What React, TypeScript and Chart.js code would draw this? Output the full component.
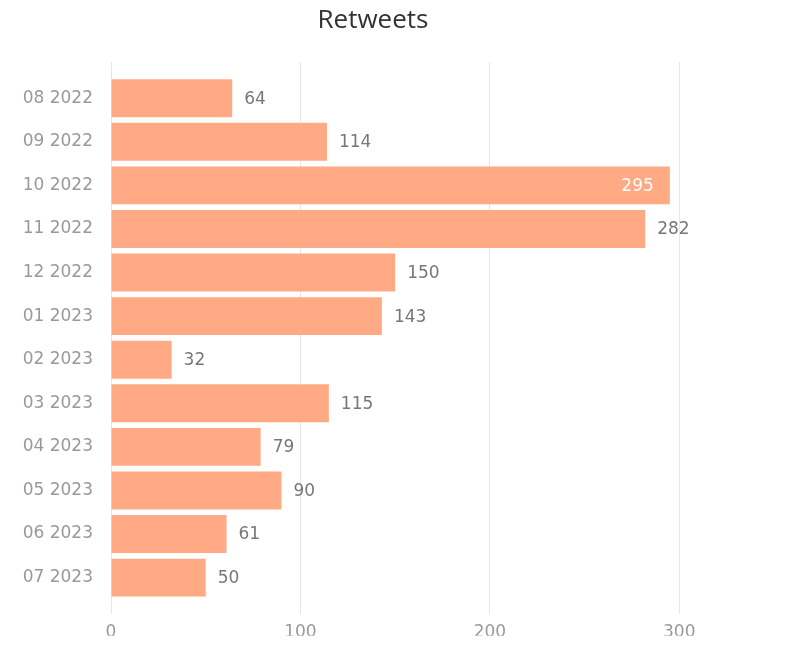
import React, { useEffect, useRef } from "react";
import { Chart, registerables } from "chart.js";

Chart.register(...registerables);

const categories = [
  "08 2022", "09 2022", "10 2022", "11 2022", "12 2022", "01 2023",
  "02 2023", "03 2023", "04 2023", "05 2023", "06 2023", "07 2023",
];
const retweets = [64, 114, 295, 282, 150, 143, 32, 115, 79, 90, 61, 50];
const xTicks = [0, 100, 200, 300];
const chartTitle = "Retweets";

const FONT = "'DejaVu Sans', sans-serif";

const valueLabels = {
  id: "valueLabels",
  afterDatasetsDraw(chart: any) {
    const ctx = chart.ctx;
    const meta = chart.getDatasetMeta(0);
    const maxVal = Math.max(...retweets);
    ctx.save();
    ctx.font = `17px ${FONT}`;
    ctx.textBaseline = "middle";
    meta.data.forEach((bar: any, i: number) => {
      const text = String(retweets[i]);
      if (retweets[i] === maxVal) {
        ctx.fillStyle = "#ffffff";
        ctx.textAlign = "right";
        ctx.fillText(text, bar.x - 16, bar.y + 1);
      } else {
        ctx.fillStyle = "#777777";
        ctx.textAlign = "left";
        ctx.fillText(text, bar.x + 12, bar.y + 1);
      }
    });
    ctx.restore();
  },
};

export default function App() {
  const ref = useRef<HTMLCanvasElement | null>(null);
  useEffect(() => {
    if (!ref.current) return;
    const chart = new Chart(ref.current, {
      type: "bar",
      data: {
        datasets: [
          {
            label: chartTitle,
            data: retweets.map((v, i) => ({ x: v, y: i })),
            backgroundColor: "#ffaa84",
            borderWidth: 0,
            barPercentage: 0.87,
            categoryPercentage: 1,
          },
        ],
      },
      options: {
        indexAxis: "y",
        animation: false,
        responsive: true,
        maintainAspectRatio: false,
        layout: { padding: { left: 0, right: 0, top: 0, bottom: 0 } },
        plugins: {
          legend: { display: false },
          tooltip: { enabled: false },
          title: {
            display: true,
            text: chartTitle,
            color: "#333333",
            font: { family: "'Open Sans', sans-serif", size: 26, weight: "normal", lineHeight: 1.0 },
            padding: { top: 0, bottom: 28 },
          },
        },
        scales: {
          y: {
            type: "linear",
            reverse: true,
            offset: false,
            min: -0.83,
            max: 11.83,
            grid: { display: false, drawTicks: false },
            border: { display: false },
            afterBuildTicks: (scale: any) => {
              scale.ticks = categories.map((_, i) => ({ value: i }));
            },
            afterFit: (scale: any) => {
              scale.width = 103;
            },
            ticks: {
              padding: 18,
              color: "#999999",
              font: { family: FONT, size: 17 },
              callback: (v: any) => categories[Math.round(Number(v))] ?? "",
            },
          },
          x: {
            type: "linear",
            min: 0,
            max: 331,
            offset: false,
            grid: { color: "#e6e6e6", drawTicks: false, lineWidth: 1 },
            border: { display: false },
            afterBuildTicks: (scale: any) => {
              scale.ticks = xTicks.map((v) => ({ value: v }));
            },
            afterFit: (scale: any) => {
              scale.height = 22;
            },
            ticks: {
              padding: 9,
              color: "#999999",
              font: { family: FONT, size: 17 },
            },
          },
        },
      },
      plugins: [valueLabels],
    });
    return () => chart.destroy();
  }, []);
  return (
    <div style={{ width: 730, height: 634, position: "relative" }}>
      <canvas ref={ref} />
    </div>
  );
}
